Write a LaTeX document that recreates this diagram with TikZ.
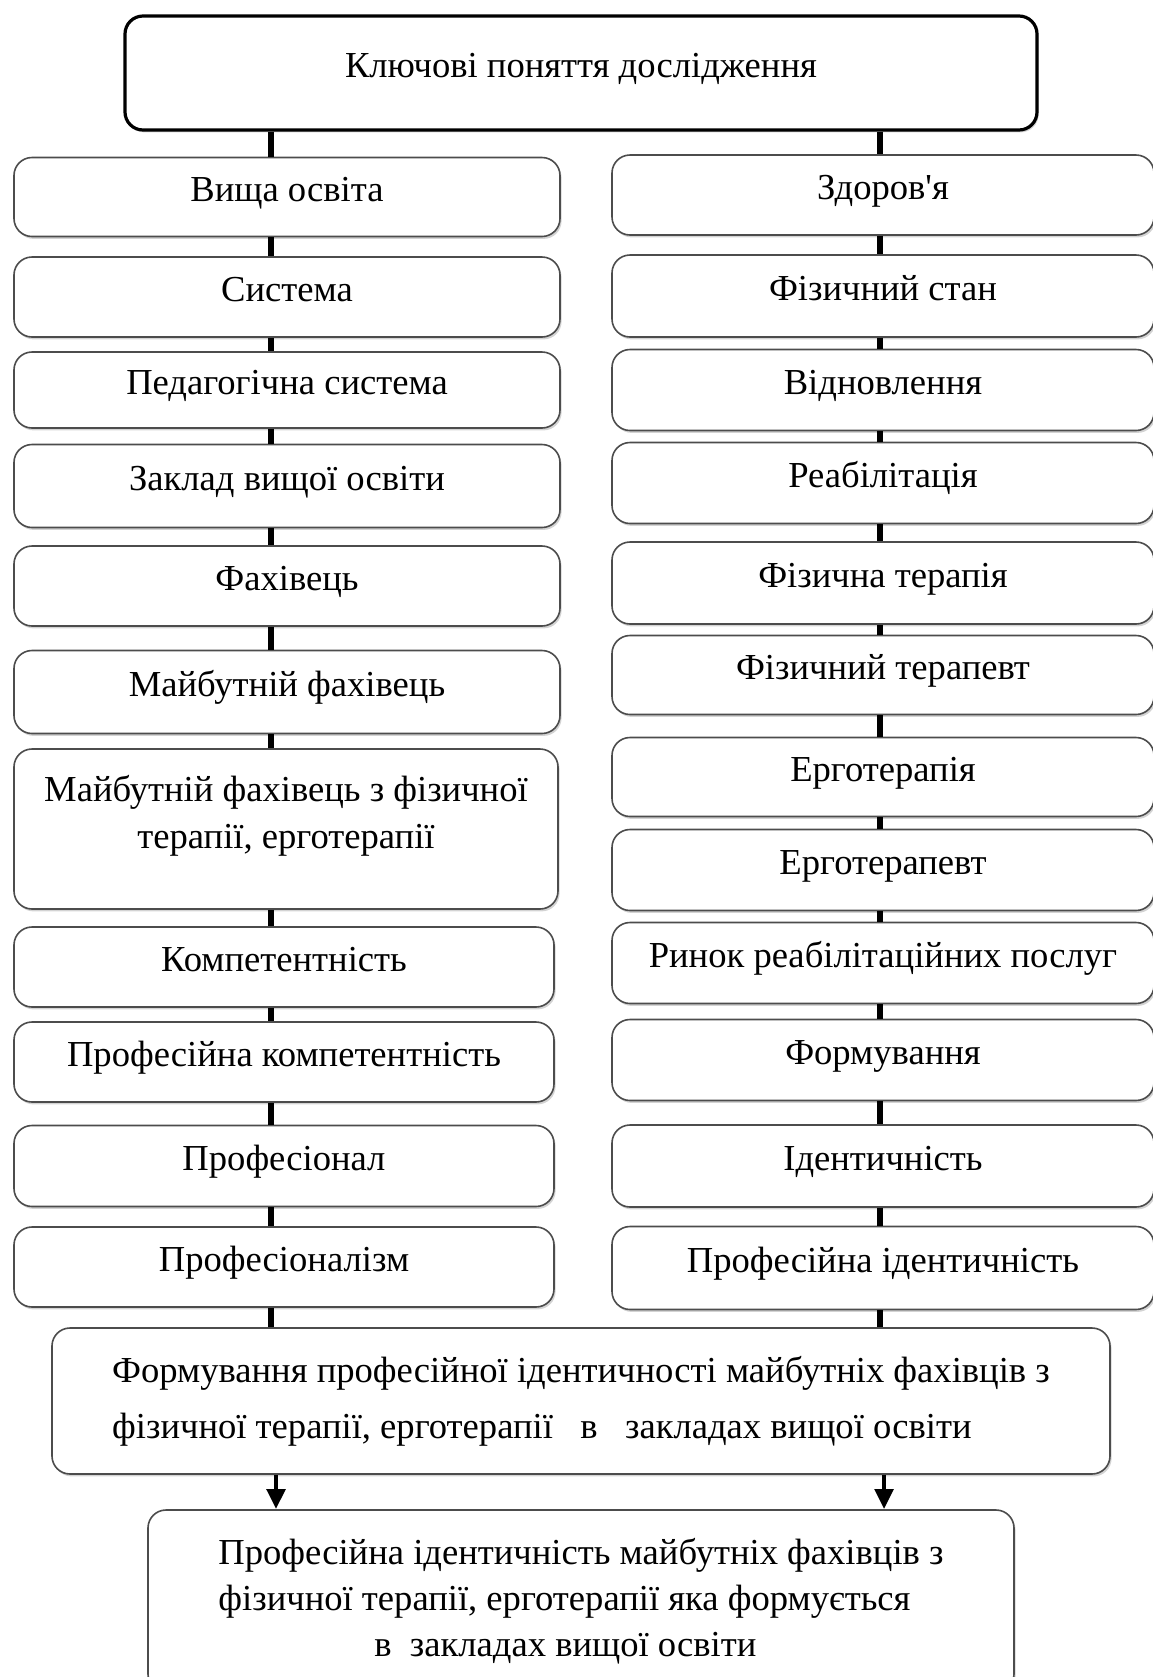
\documentclass[tikz,border=0pt]{standalone}
\usepackage{fontspec}
\setmainfont{Liberation Serif}[Ligatures=TeXOff]
\usetikzlibrary{shadows, arrows.meta}

\tikzset{
	box/.style={draw=black!70, line width=0.8pt, rounded corners=9pt, fill=white,
		minimum width=273pt, font=\fontsize{18.3}{23.5}\selectfont,
		drop shadow={shadow xshift=0.8pt, shadow yshift=-1.2pt, opacity=0.35}},
	onel/.style={text height=12.5pt, text depth=8.5pt},
	topbox/.style={box, draw=black, line width=1.6pt, minimum width=456pt, minimum height=57pt},
	link/.style={line width=2.6pt},
	arr/.style={line width=2.4pt, -{Triangle[length=10pt, width=9pt]}},
}

\begin{document}
\begin{tikzpicture}[x=0.5pt,y=-0.5pt]
	\useasboundingbox (0,0) rectangle (1152,1677);
	\coordinate (lx) at (271,0);
	\coordinate (rx) at (880,0);
	\coordinate (la) at (276,0);
	\coordinate (ra) at (884,0);
	
	\node[topbox, onel] (K) at (581,73){Ключові поняття дослідження};
	
	\foreach \n/\y/\h/\t in {1/197/79/Вища освіта, 2/297/80/Система, 3/390/76/Педагогічна система,
		4/486/83/Заклад вищої освіти, 5/586/80/Фахівець, 6/692/83/Майбутній фахівець}
		\node[box, onel, minimum height=\h*0.5pt] (L\n) at (287,\y){\t};
	\node[box, align=center, minimum width=272pt, minimum height=80pt] (L7) at (286,829){Майбутній фахівець з фізичної\\терапії, ерготерапії\\[-6pt]\mbox{}};
	\foreach \n/\y/\h/\t in {8/967/80/Компетентність, 9/1062/80/Професійна компетентність,
		10/1166/81/Професіонал, 11/1267/80/Професіоналізм}
		\node[box, onel, minimum width=270pt, minimum height=\h*0.5pt] (L\n) at (284,\y){\t};
	
	\foreach \n/\y/\h/\t in {1/195/80/Здоров'я, 2/296/82/Фізичний стан, 3/390/81/Відновлення,
		4/483/81/Реабілітація, 5/583/82/Фізична терапія, 6/675/79/Фізичний терапевт,
		7/777/79/Ерготерапія, 8/870/81/Ерготерапевт, 9/963/81/Ринок реабілітаційних послуг,
		10/1060/81/Формування, 11/1166/82/Ідентичність, 12/1268/83/Професійна ідентичність}
		\node[box, onel, minimum width=271pt, minimum height=\h*0.5pt] (R\n) at (883,\y){\t};
	
	\node[box, align=left, minimum width=529pt, minimum height=73pt,
		font=\fontsize{18.3}{28}\selectfont] (F) at (581,1401)
		{Формування професійної ідентичності майбутніх фахівців з\\
		фізичної терапії, ерготерапії\ \ \ в\ \ \ закладах вищої освіти};
	\node[box, align=left, minimum width=433pt, minimum height=91pt,
		font=\fontsize{18.3}{23}\selectfont] (P) at (581,1601)
		{Професійна ідентичність майбутніх фахівців з\\
		фізичної терапії, ерготерапії яка формується\\
		\hspace*{78pt}в\ \ закладах вищої освіти};
	
	\draw[link] (K.south -| lx) -- (L1.north -| lx);
	\draw[link] (K.south -| rx) -- (R1.north -| rx);
	\foreach \j [remember=\j as \i (initially 1)] in {2,...,11}
		\draw[link] (L\i.south -| lx) -- (L\j.north -| lx);
	\foreach \j [remember=\j as \i (initially 1)] in {2,...,12}
		\draw[link] (R\i.south -| rx) -- (R\j.north -| rx);
	\draw[link] (L11.south -| lx) -- (F.north -| lx);
	\draw[link] (R12.south -| rx) -- (F.north -| rx);
	\draw[arr] (F.south -| la) -- (P.north -| la);
	\draw[arr] (F.south -| ra) -- (P.north -| ra);
\end{tikzpicture}
\end{document}
